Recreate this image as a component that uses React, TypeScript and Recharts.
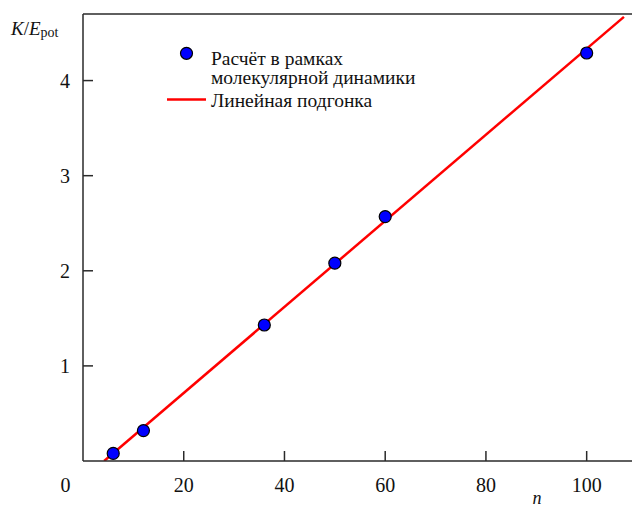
import React from 'react';
import { ComposedChart, XAxis, YAxis, Scatter, Line, ReferenceLine } from 'recharts';

const nValues = [6, 12, 36, 50, 60, 100];
const ratioValues = [0.08, 0.32, 1.43, 2.08, 2.57, 4.29];
const fitN = [4.2, 107.4];
const fitRatio = [0, 4.67];
const xTicks = [0, 20, 40, 60, 80, 100];
const yTicks = [1, 2, 3, 4];
const legendLabels = ['Расчёт в рамках', 'молекулярной динамики', 'Линейная подгонка'];

const X_MAX = 109;
const Y_MAX = 4.7;

const mdData = nValues.map((n, i) => ({ n, y: ratioValues[i] }));
const fitData = fitN.map((n, i) => ({ n, y: fitRatio[i] }));

const FONT = "'Liberation Serif', 'Times New Roman', Times, 'DejaVu Serif', serif";
const AXIS = '#2a2a2a';
const txt = (extra: any = {}) => ({ fontFamily: FONT, ...extra });

const XTick = (props: any) => {
  const { x, y, payload } = props;
  const v = payload.value;
  return (
    <g>
      {v !== 0 && <line x1={x} x2={x} y1={y} y2={y - 10} stroke={AXIS} strokeWidth={1.5} />}
      <text x={v === 0 ? x - 17.5 : x} y={y + 31} textAnchor="middle" style={txt({ fontSize: 20 })} fill="#111">
        {v}
      </text>
    </g>
  );
};

const YTick = (props: any) => {
  const { x, y, payload } = props;
  return (
    <g>
      <line x1={x} x2={x + 10} y1={y} y2={y} stroke={AXIS} strokeWidth={1.5} />
      <text x={x - 13} y={y + 7} textAnchor="end" style={txt({ fontSize: 20 })} fill="#111">
        {payload.value}
      </text>
    </g>
  );
};

const YLabel = () => (
  <text x={11} y={35} style={txt({ fontSize: 19 })} fill="#111">
    <tspan fontStyle="italic">K</tspan>
    <tspan>/</tspan>
    <tspan fontStyle="italic">E</tspan>
    <tspan fontSize={14} dy={2}>pot</tspan>
  </text>
);

const XLabel = () => (
  <text x={537} y={504} textAnchor="middle" style={txt({ fontSize: 18, fontStyle: 'italic' })} fill="#111">
    n
  </text>
);

const Dot = (props: any) => {
  const { cx, cy } = props;
  if (cx == null || cy == null) return <g />;
  return <circle cx={cx} cy={cy} r={6} fill="#0000ff" stroke="#000" strokeWidth={1.2} />;
};

const LegendBox = () => (
  <svg width={632} height={120} style={{ position: 'absolute', left: 0, top: 0, pointerEvents: 'none' }}>
    <circle cx={186.5} cy={53.3} r={6} fill="#0000ff" stroke="#000" strokeWidth={1.2} />
    <text x={211} y={65} style={txt({ fontSize: 19.5 })} fill="#111">{legendLabels[0]}</text>
    <text x={211} y={84} style={txt({ fontSize: 19.5 })} fill="#111">{legendLabels[1]}</text>
    <line x1={167} x2={206} y1={99.5} y2={99.5} stroke="#ff0000" strokeWidth={2.5} />
    <text x={211} y={107} style={txt({ fontSize: 19.5 })} fill="#111">{legendLabels[2]}</text>
  </svg>
);

export default function App() {
  return (
    <div style={{ position: 'absolute', left: 0, top: 0, width: 632, height: 507 }}>
      <ComposedChart width={632} height={507} margin={{ top: 14, right: 0, bottom: 0, left: 0 }}>
        <XAxis
          dataKey="n"
          type="number"
          domain={[0, X_MAX]}
          ticks={xTicks}
          interval={0}
          tickSize={0}
          tickMargin={0}
          tick={<XTick />}
          height={46}
          axisLine={{ stroke: AXIS, strokeWidth: 1.5 }}
          tickLine={false}
          allowDataOverflow
          label={<XLabel />}
        />
        <YAxis
          dataKey="y"
          type="number"
          domain={[0, Y_MAX]}
          ticks={yTicks}
          interval={0}
          tickSize={0}
          tickMargin={0}
          tick={<YTick />}
          width={83}
          axisLine={{ stroke: AXIS, strokeWidth: 1.5 }}
          tickLine={false}
          allowDataOverflow
          label={<YLabel />}
        />
        <ReferenceLine y={Y_MAX} stroke={AXIS} strokeWidth={1.5} />
        <Line
          data={fitData}
          dataKey="y"
          type="linear"
          stroke="#ff0000"
          strokeWidth={2.5}
          dot={false}
          activeDot={false}
          isAnimationActive={false}
          legendType="none"
        />
        <Scatter data={mdData} dataKey="y" shape={<Dot />} isAnimationActive={false} legendType="none" />
      </ComposedChart>
      <LegendBox />
    </div>
  );
}
